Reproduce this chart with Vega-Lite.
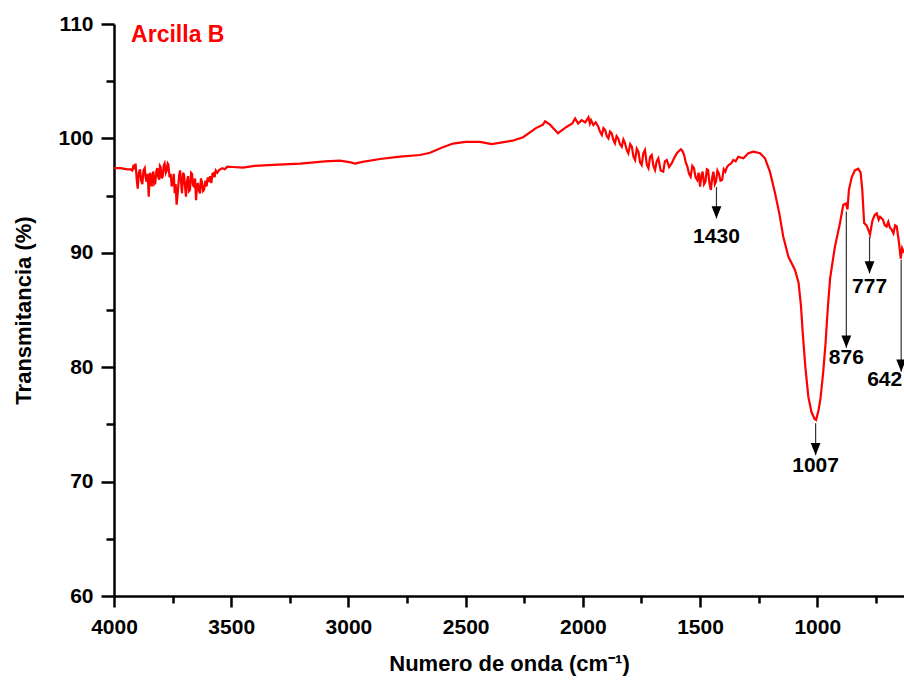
{
  "$schema": "https://vega.github.io/schema/vega-lite/v6.json",
  "width": 790,
  "height": 572,
  "autosize": {"type": "none"},
  "padding": {"left": 114, "top": 24, "right": 0, "bottom": 94},
  "background": "white",
  "config": {
    "font": "Liberation Sans",
    "view": {"stroke": null},
    "axis": {"grid": false, "domainColor": "black", "tickColor": "black", "labelColor": "black", "titleColor": "black", "labelFont": "Liberation Sans", "titleFont": "Liberation Sans", "labelFontWeight": "bold", "titleFontWeight": "bold"}
  },
  "datasets": {
    "spectrum": [
      {"wn": 4000, "t": 97.4}, {"wn": 3972, "t": 97.4}, {"wn": 3943, "t": 97.3}, {"wn": 3930, "t": 97.3},
      {"wn": 3922, "t": 97.2}, {"wn": 3916, "t": 97.7}, {"wn": 3912, "t": 97.3}, {"wn": 3908, "t": 97.8},
      {"wn": 3903, "t": 96.4}, {"wn": 3899, "t": 95.6}, {"wn": 3894, "t": 97.0}, {"wn": 3889, "t": 97.3},
      {"wn": 3884, "t": 96.3}, {"wn": 3879, "t": 96.0}, {"wn": 3874, "t": 97.2}, {"wn": 3869, "t": 97.4},
      {"wn": 3865, "t": 96.6}, {"wn": 3861, "t": 96.2}, {"wn": 3856, "t": 96.9}, {"wn": 3852, "t": 94.9},
      {"wn": 3848, "t": 96.5}, {"wn": 3846, "t": 97.0}, {"wn": 3842, "t": 96.3}, {"wn": 3839, "t": 95.8},
      {"wn": 3835, "t": 96.9}, {"wn": 3832, "t": 97.1}, {"wn": 3828, "t": 96.0}, {"wn": 3824, "t": 96.1},
      {"wn": 3819, "t": 97.2}, {"wn": 3815, "t": 97.4}, {"wn": 3811, "t": 96.6}, {"wn": 3807, "t": 96.4},
      {"wn": 3804, "t": 97.6}, {"wn": 3801, "t": 97.5}, {"wn": 3796, "t": 96.5}, {"wn": 3792, "t": 96.7},
      {"wn": 3788, "t": 97.6}, {"wn": 3784, "t": 97.8}, {"wn": 3779, "t": 97.0}, {"wn": 3775, "t": 97.2},
      {"wn": 3771, "t": 97.8}, {"wn": 3768, "t": 97.7}, {"wn": 3763, "t": 96.6}, {"wn": 3758, "t": 96.9},
      {"wn": 3754, "t": 95.8}, {"wn": 3750, "t": 96.1}, {"wn": 3745, "t": 96.9}, {"wn": 3741, "t": 95.2},
      {"wn": 3737, "t": 96.0}, {"wn": 3733, "t": 94.2}, {"wn": 3729, "t": 95.0}, {"wn": 3726, "t": 95.8},
      {"wn": 3722, "t": 96.8}, {"wn": 3718, "t": 97.2}, {"wn": 3714, "t": 96.2}, {"wn": 3710, "t": 95.2},
      {"wn": 3705, "t": 97.0}, {"wn": 3701, "t": 96.8}, {"wn": 3697, "t": 95.8}, {"wn": 3693, "t": 94.9},
      {"wn": 3689, "t": 96.2}, {"wn": 3684, "t": 96.7}, {"wn": 3680, "t": 95.4}, {"wn": 3676, "t": 95.5},
      {"wn": 3671, "t": 97.0}, {"wn": 3667, "t": 96.9}, {"wn": 3663, "t": 95.9}, {"wn": 3659, "t": 95.8},
      {"wn": 3654, "t": 96.5}, {"wn": 3650, "t": 94.6}, {"wn": 3646, "t": 95.8}, {"wn": 3642, "t": 96.1},
      {"wn": 3637, "t": 95.4}, {"wn": 3633, "t": 95.2}, {"wn": 3629, "t": 96.5}, {"wn": 3625, "t": 96.2},
      {"wn": 3620, "t": 95.4}, {"wn": 3616, "t": 95.5}, {"wn": 3610, "t": 96.3}, {"wn": 3605, "t": 95.8},
      {"wn": 3600, "t": 96.6}, {"wn": 3595, "t": 96.2}, {"wn": 3590, "t": 96.7}, {"wn": 3585, "t": 96.1},
      {"wn": 3580, "t": 96.9}, {"wn": 3576, "t": 96.95}, {"wn": 3571, "t": 96.6}, {"wn": 3566, "t": 97.2},
      {"wn": 3559, "t": 97.0}, {"wn": 3552, "t": 97.24}, {"wn": 3538, "t": 97.4}, {"wn": 3527, "t": 97.3},
      {"wn": 3517, "t": 97.53}, {"wn": 3495, "t": 97.5}, {"wn": 3450, "t": 97.45}, {"wn": 3400, "t": 97.6},
      {"wn": 3300, "t": 97.7}, {"wn": 3206, "t": 97.8}, {"wn": 3100, "t": 98.0}, {"wn": 3036, "t": 98.05},
      {"wn": 2990, "t": 97.9}, {"wn": 2972, "t": 97.8}, {"wn": 2940, "t": 97.95}, {"wn": 2865, "t": 98.2},
      {"wn": 2780, "t": 98.4}, {"wn": 2695, "t": 98.55}, {"wn": 2652, "t": 98.75}, {"wn": 2600, "t": 99.2},
      {"wn": 2554, "t": 99.55}, {"wn": 2500, "t": 99.7}, {"wn": 2439, "t": 99.7}, {"wn": 2389, "t": 99.5},
      {"wn": 2300, "t": 99.8}, {"wn": 2255, "t": 100.1}, {"wn": 2200, "t": 100.9}, {"wn": 2170, "t": 101.2},
      {"wn": 2161, "t": 101.5}, {"wn": 2140, "t": 101.2}, {"wn": 2106, "t": 100.45}, {"wn": 2070, "t": 101.0},
      {"wn": 2045, "t": 101.3}, {"wn": 2033, "t": 101.75}, {"wn": 2020, "t": 101.3}, {"wn": 2005, "t": 101.6},
      {"wn": 1990, "t": 101.4}, {"wn": 1976, "t": 101.84}, {"wn": 1970, "t": 101.3}, {"wn": 1965, "t": 101.6},
      {"wn": 1955, "t": 101.17}, {"wn": 1945, "t": 101.4}, {"wn": 1934, "t": 101.02}, {"wn": 1927, "t": 100.6},
      {"wn": 1919, "t": 100.3}, {"wn": 1912, "t": 100.9}, {"wn": 1905, "t": 100.73}, {"wn": 1898, "t": 100.2},
      {"wn": 1891, "t": 100.0}, {"wn": 1884, "t": 100.6}, {"wn": 1877, "t": 100.44}, {"wn": 1870, "t": 99.9},
      {"wn": 1863, "t": 99.57}, {"wn": 1856, "t": 100.2}, {"wn": 1849, "t": 100.0}, {"wn": 1842, "t": 99.5},
      {"wn": 1834, "t": 99.27}, {"wn": 1827, "t": 99.9}, {"wn": 1820, "t": 99.57}, {"wn": 1813, "t": 99.0},
      {"wn": 1806, "t": 98.7}, {"wn": 1798, "t": 99.5}, {"wn": 1791, "t": 99.27}, {"wn": 1784, "t": 98.4},
      {"wn": 1777, "t": 98.11}, {"wn": 1770, "t": 99.1}, {"wn": 1763, "t": 98.84}, {"wn": 1756, "t": 97.9},
      {"wn": 1749, "t": 97.67}, {"wn": 1742, "t": 98.7}, {"wn": 1735, "t": 98.99}, {"wn": 1727, "t": 97.7},
      {"wn": 1720, "t": 97.39}, {"wn": 1713, "t": 98.4}, {"wn": 1706, "t": 98.55}, {"wn": 1699, "t": 97.6},
      {"wn": 1692, "t": 97.24}, {"wn": 1685, "t": 98.0}, {"wn": 1678, "t": 98.26}, {"wn": 1668, "t": 97.2},
      {"wn": 1657, "t": 97.09}, {"wn": 1650, "t": 98.0}, {"wn": 1642, "t": 98.11}, {"wn": 1632, "t": 97.5},
      {"wn": 1621, "t": 97.82}, {"wn": 1610, "t": 98.3}, {"wn": 1599, "t": 98.7}, {"wn": 1590, "t": 98.9},
      {"wn": 1582, "t": 99.05}, {"wn": 1575, "t": 98.9}, {"wn": 1568, "t": 98.55}, {"wn": 1561, "t": 97.9},
      {"wn": 1554, "t": 97.53}, {"wn": 1547, "t": 96.9}, {"wn": 1540, "t": 96.65}, {"wn": 1533, "t": 97.6},
      {"wn": 1526, "t": 97.39}, {"wn": 1519, "t": 96.6}, {"wn": 1512, "t": 96.36}, {"wn": 1506, "t": 97.0},
      {"wn": 1500, "t": 95.78}, {"wn": 1494, "t": 96.8}, {"wn": 1489, "t": 97.09}, {"wn": 1483, "t": 96.0},
      {"wn": 1477, "t": 96.22}, {"wn": 1471, "t": 97.3}, {"wn": 1466, "t": 97.24}, {"wn": 1460, "t": 96.1},
      {"wn": 1454, "t": 95.49}, {"wn": 1448, "t": 96.6}, {"wn": 1443, "t": 97.09}, {"wn": 1437, "t": 96.0},
      {"wn": 1432, "t": 96.22}, {"wn": 1426, "t": 97.2}, {"wn": 1420, "t": 96.95}, {"wn": 1413, "t": 96.3},
      {"wn": 1406, "t": 96.36}, {"wn": 1399, "t": 97.3}, {"wn": 1392, "t": 97.09}, {"wn": 1385, "t": 97.5},
      {"wn": 1378, "t": 97.67}, {"wn": 1368, "t": 97.8}, {"wn": 1358, "t": 98.11}, {"wn": 1348, "t": 98.0},
      {"wn": 1337, "t": 98.4}, {"wn": 1315, "t": 98.26}, {"wn": 1294, "t": 98.7}, {"wn": 1273, "t": 98.84},
      {"wn": 1244, "t": 98.7}, {"wn": 1223, "t": 98.26}, {"wn": 1202, "t": 97.09}, {"wn": 1180, "t": 95.2},
      {"wn": 1162, "t": 93.45}, {"wn": 1145, "t": 91.4}, {"wn": 1123, "t": 89.65}, {"wn": 1095, "t": 88.5},
      {"wn": 1080, "t": 87.4}, {"wn": 1070, "t": 85.5}, {"wn": 1062, "t": 83.0}, {"wn": 1051, "t": 80.05},
      {"wn": 1038, "t": 77.4}, {"wn": 1025, "t": 76.1}, {"wn": 1012, "t": 75.5}, {"wn": 1005, "t": 75.4},
      {"wn": 995, "t": 76.2}, {"wn": 986, "t": 77.3}, {"wn": 975, "t": 79.5}, {"wn": 965, "t": 82.0},
      {"wn": 955, "t": 85.2}, {"wn": 945, "t": 87.8}, {"wn": 925, "t": 90.5}, {"wn": 903, "t": 92.6},
      {"wn": 889, "t": 94.2}, {"wn": 878, "t": 94.3}, {"wn": 871, "t": 93.8}, {"wn": 865, "t": 95.5},
      {"wn": 853, "t": 96.6}, {"wn": 840, "t": 97.2}, {"wn": 825, "t": 97.35}, {"wn": 815, "t": 97.0},
      {"wn": 808, "t": 95.5}, {"wn": 800, "t": 92.6}, {"wn": 790, "t": 92.4}, {"wn": 782, "t": 92.0},
      {"wn": 775, "t": 91.6}, {"wn": 765, "t": 92.8}, {"wn": 755, "t": 93.3}, {"wn": 746, "t": 93.45},
      {"wn": 738, "t": 92.9}, {"wn": 732, "t": 93.15}, {"wn": 720, "t": 92.9}, {"wn": 712, "t": 92.4},
      {"wn": 704, "t": 92.3}, {"wn": 697, "t": 92.7}, {"wn": 690, "t": 92.2}, {"wn": 682, "t": 92.0},
      {"wn": 675, "t": 91.7}, {"wn": 668, "t": 92.4}, {"wn": 661, "t": 92.3}, {"wn": 652, "t": 91.0},
      {"wn": 644, "t": 89.5}, {"wn": 638, "t": 90.4}, {"wn": 630, "t": 90.0}
    ],
    "peaks": [
      {"wn": 1430, "top": 95.75, "tip": 93.0, "lab": 91.4, "label": "1430"},
      {"wn": 1007, "top": 75.1, "tip": 72.3, "lab": 71.4, "label": "1007"},
      {"wn": 876, "top": 93.6, "tip": 81.7, "lab": 80.8, "label": "876"},
      {"wn": 777, "top": 91.4, "tip": 88.2, "lab": 87.0, "label": "777"},
      {"wn": 642, "top": 89.4, "tip": 79.6, "lab": 78.9, "label": "642"}
    ],
    "title": [{"wn": 3927, "t": 108.4, "label": "Arcilla B"}]
  },
  "resolve": {"axis": {"x": "independent", "y": "independent"}},
  "layer": [
    {
      "data": {"name": "spectrum"},
      "mark": {"type": "line", "color": "#ff0000", "strokeWidth": 2.2, "clip": true},
      "encoding": {
        "x": {"field": "wn", "type": "quantitative", "scale": {"domain": [4000, 630], "nice": false, "zero": false},
          "axis": {"values": [4000, 3500, 3000, 2500, 2000, 1500, 1000], "format": "d", "title": "Numero de onda (cm⁻¹)", "domainWidth": 2.5, "tickWidth": 2.5, "tickSize": 11, "labelPadding": 9, "labelFontSize": 21, "titleFontSize": 22, "titlePadding": 16, "labelFlush": false}},
        "y": {"field": "t", "type": "quantitative", "scale": {"domain": [60, 110], "nice": false, "zero": false},
          "axis": {"values": [60, 70, 80, 90, 100, 110], "format": "d", "title": "Transmitancia (%)", "domainWidth": 2.5, "tickWidth": 2.5, "tickSize": 13, "labelPadding": 8, "labelFontSize": 21, "titleFontSize": 22, "titlePadding": 22, "labelFlush": false}}
      }
    },
    {
      "data": {"name": "peaks"},
      "mark": {"type": "rule", "color": "#333333", "strokeWidth": 1.2},
      "encoding": {
        "x": {"field": "wn", "type": "quantitative", "scale": {"domain": [4000, 630], "nice": false, "zero": false},
          "axis": {"orient": "bottom", "values": [3750, 3250, 2750, 2250, 1750, 1250, 750], "labels": false, "domain": false, "title": null, "tickWidth": 2.5, "tickSize": 7}},
        "y": {"field": "top", "type": "quantitative", "scale": {"domain": [60, 110], "nice": false, "zero": false},
          "axis": {"orient": "left", "values": [65, 75, 85, 95, 105], "labels": false, "domain": false, "title": null, "tickWidth": 2.5, "tickSize": 8}},
        "y2": {"field": "tip"}
      }
    },
    {
      "data": {"name": "peaks"},
      "mark": {"type": "point", "shape": "M -0.4 -1 L 0.4 -1 L 0 0 Z", "filled": true, "color": "black", "size": 600, "opacity": 1},
      "encoding": {
        "x": {"field": "wn", "type": "quantitative", "axis": null},
        "y": {"field": "tip", "type": "quantitative", "axis": null}
      }
    },
    {
      "data": {"name": "peaks"},
      "transform": [{"filter": "datum.label != '642'"}],
      "mark": {"type": "text", "fontSize": 21, "fontWeight": "bold", "color": "black", "baseline": "middle", "align": "center"},
      "encoding": {
        "x": {"field": "wn", "type": "quantitative", "axis": null},
        "y": {"field": "lab", "type": "quantitative", "axis": null},
        "text": {"field": "label"}
      }
    },
    {
      "data": {"name": "peaks"},
      "transform": [{"filter": "datum.label == '642'"}],
      "mark": {"type": "text", "fontSize": 21, "fontWeight": "bold", "color": "black", "baseline": "middle", "align": "right", "dx": 1},
      "encoding": {
        "x": {"field": "wn", "type": "quantitative", "axis": null},
        "y": {"field": "lab", "type": "quantitative", "axis": null},
        "text": {"field": "label"}
      }
    },
    {
      "data": {"name": "title"},
      "mark": {"type": "text", "fontSize": 23, "fontWeight": "bold", "color": "#ff0000", "baseline": "alphabetic", "align": "left"},
      "encoding": {
        "x": {"field": "wn", "type": "quantitative", "axis": null},
        "y": {"field": "t", "type": "quantitative", "axis": null},
        "text": {"field": "label"}
      }
    }
  ]
}
